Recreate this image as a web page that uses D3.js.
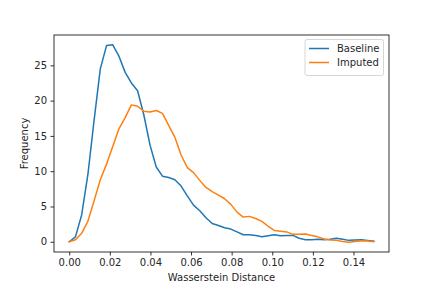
<!DOCTYPE html>
<html>
<head>
<meta charset="utf-8">
<script src="https://cdn.jsdelivr.net/npm/d3@7"></script>
<style>
  body { margin: 0; background: #fff; }
  text { font-family: "DejaVu Sans", sans-serif; fill: #262626; }
</style>
</head>
<body>
<script>
var width = 432;
var height = 288;
var margin = { left: 54, right: 43, top: 35, bottom: 36 };

// 50 evenly spaced distances from 0 to 0.15
var nPoints = 50;
var distances = d3.range(nPoints).map(function(i) { return +(0.15 * i / (nPoints - 1)).toFixed(5); });

var baseline = [0, 0.7, 3.8, 9.5, 17.2, 24.5, 27.8, 27.9, 26.3, 24.0,
                22.5, 21.4, 18.0, 13.7, 10.6, 9.3, 9.1, 8.8, 7.9, 6.5,
                5.2, 4.4, 3.4, 2.6, 2.3, 2.0, 1.8, 1.4, 1.0, 1.0,
                0.9, 0.7, 0.85, 1.0, 0.85, 0.9, 0.9, 0.5, 0.3, 0.3,
                0.35, 0.3, 0.35, 0.5, 0.35, 0.2, 0.25, 0.3, 0.2, 0.1];

var imputed = [0, 0.3, 1.2, 2.9, 5.8, 8.8, 11.0, 13.5, 16.0, 17.6,
               19.4, 19.2, 18.5, 18.4, 18.6, 18.2, 16.5, 14.8, 12.3, 10.5,
               9.8, 8.7, 7.7, 7.1, 6.6, 6.1, 5.3, 4.2, 3.5, 3.6,
               3.3, 2.9, 2.2, 1.6, 1.5, 1.4, 1.05, 1.05, 1.1, 0.9,
               0.7, 0.4, 0.25, 0.2, 0.05, -0.05, 0.05, 0.15, 0.1, 0];

var seriesNames = ['Baseline', 'Imputed'];
var seriesColors = ['#1f77b4', '#ff7f0e'];
var xTicks = [0, 0.02, 0.04, 0.06, 0.08, 0.10, 0.12, 0.14];
var yTicks = [0, 5, 10, 15, 20, 25];

window.document.addEventListener('DOMContentLoaded', init, false);

function init() {
    var svg = d3.select('body').append('svg')
        .attr('width', width)
        .attr('height', height);

    var x0 = d3.min(distances), x1 = d3.max(distances);
    var xPad = (x1 - x0) * 0.05;
    var x = d3.scaleLinear()
        .domain([x0 - xPad, x1 + xPad])
        .range([margin.left, width - margin.right]);

    var allY = baseline.concat(imputed);
    var y0 = d3.min(allY), y1 = d3.max(allY);
    var yPad = (y1 - y0) * 0.05;
    var y = d3.scaleLinear()
        .domain([y0 - yPad, y1 + yPad])
        .range([height - margin.bottom, margin.top]);

    var xAxis = svg.append('g')
        .attr('transform', 'translate(0,' + (height - margin.bottom) + ')')
        .call(d3.axisBottom(x).tickValues(xTicks).tickFormat(d3.format('.2f')).tickSize(3.5).tickPadding(3.5));
    var yAxis = svg.append('g')
        .attr('transform', 'translate(' + margin.left + ',0)')
        .call(d3.axisLeft(y).tickValues(yTicks).tickFormat(d3.format('d')).tickSize(3.5).tickPadding(3.5));

    [xAxis, yAxis].forEach(function(a) {
        a.select('.domain').remove();
        a.selectAll('line').attr('stroke', '#000').attr('stroke-width', 0.8);
        a.selectAll('text').attr('font-size', 10).attr('font-family', 'DejaVu Sans').attr('fill', '#262626');
    });

    var series = [baseline, imputed];
    series.forEach(function(vals, k) {
        var line = d3.line()
            .x(function(d, i) { return x(distances[i]); })
            .y(function(d) { return y(d); });
        svg.append('path')
            .datum(vals)
            .attr('fill', 'none')
            .attr('stroke', seriesColors[k])
            .attr('stroke-width', 1.5)
            .attr('stroke-linejoin', 'round')
            .attr('stroke-linecap', 'square')
            .attr('d', line);
    });

    // frame
    svg.append('rect')
        .attr('x', margin.left)
        .attr('y', margin.top)
        .attr('width', width - margin.left - margin.right)
        .attr('height', height - margin.top - margin.bottom)
        .attr('fill', 'none')
        .attr('stroke', '#000')
        .attr('stroke-width', 0.8);

    svg.append('text')
        .attr('x', (margin.left + width - margin.right) / 2)
        .attr('y', 281)
        .attr('text-anchor', 'middle')
        .attr('font-size', 10)
        .text('Wasserstein Distance');

    svg.append('text')
        .attr('transform', 'translate(28,' + ((margin.top + height - margin.bottom) / 2) + ') rotate(-90)')
        .attr('text-anchor', 'middle')
        .attr('font-size', 10)
        .text('Frequency');

    // legend
    var legend = svg.append('g').attr('transform', 'translate(305,39.5)');
    legend.append('rect')
        .attr('width', 78.5)
        .attr('height', 36)
        .attr('rx', 2)
        .attr('fill', '#fff')
        .attr('fill-opacity', 0.8)
        .attr('stroke', '#ccc')
        .attr('stroke-width', 0.8);
    seriesNames.forEach(function(name, k) {
        var ly = 9 + k * 14;
        legend.append('line')
            .attr('x1', 4).attr('x2', 24)
            .attr('y1', ly).attr('y2', ly)
            .attr('stroke', seriesColors[k])
            .attr('stroke-width', 1.5);
        legend.append('text')
            .attr('x', 32)
            .attr('y', ly + 3.5)
            .attr('font-size', 10)
            .text(name);
    });
}
</script>
</body>
</html>
